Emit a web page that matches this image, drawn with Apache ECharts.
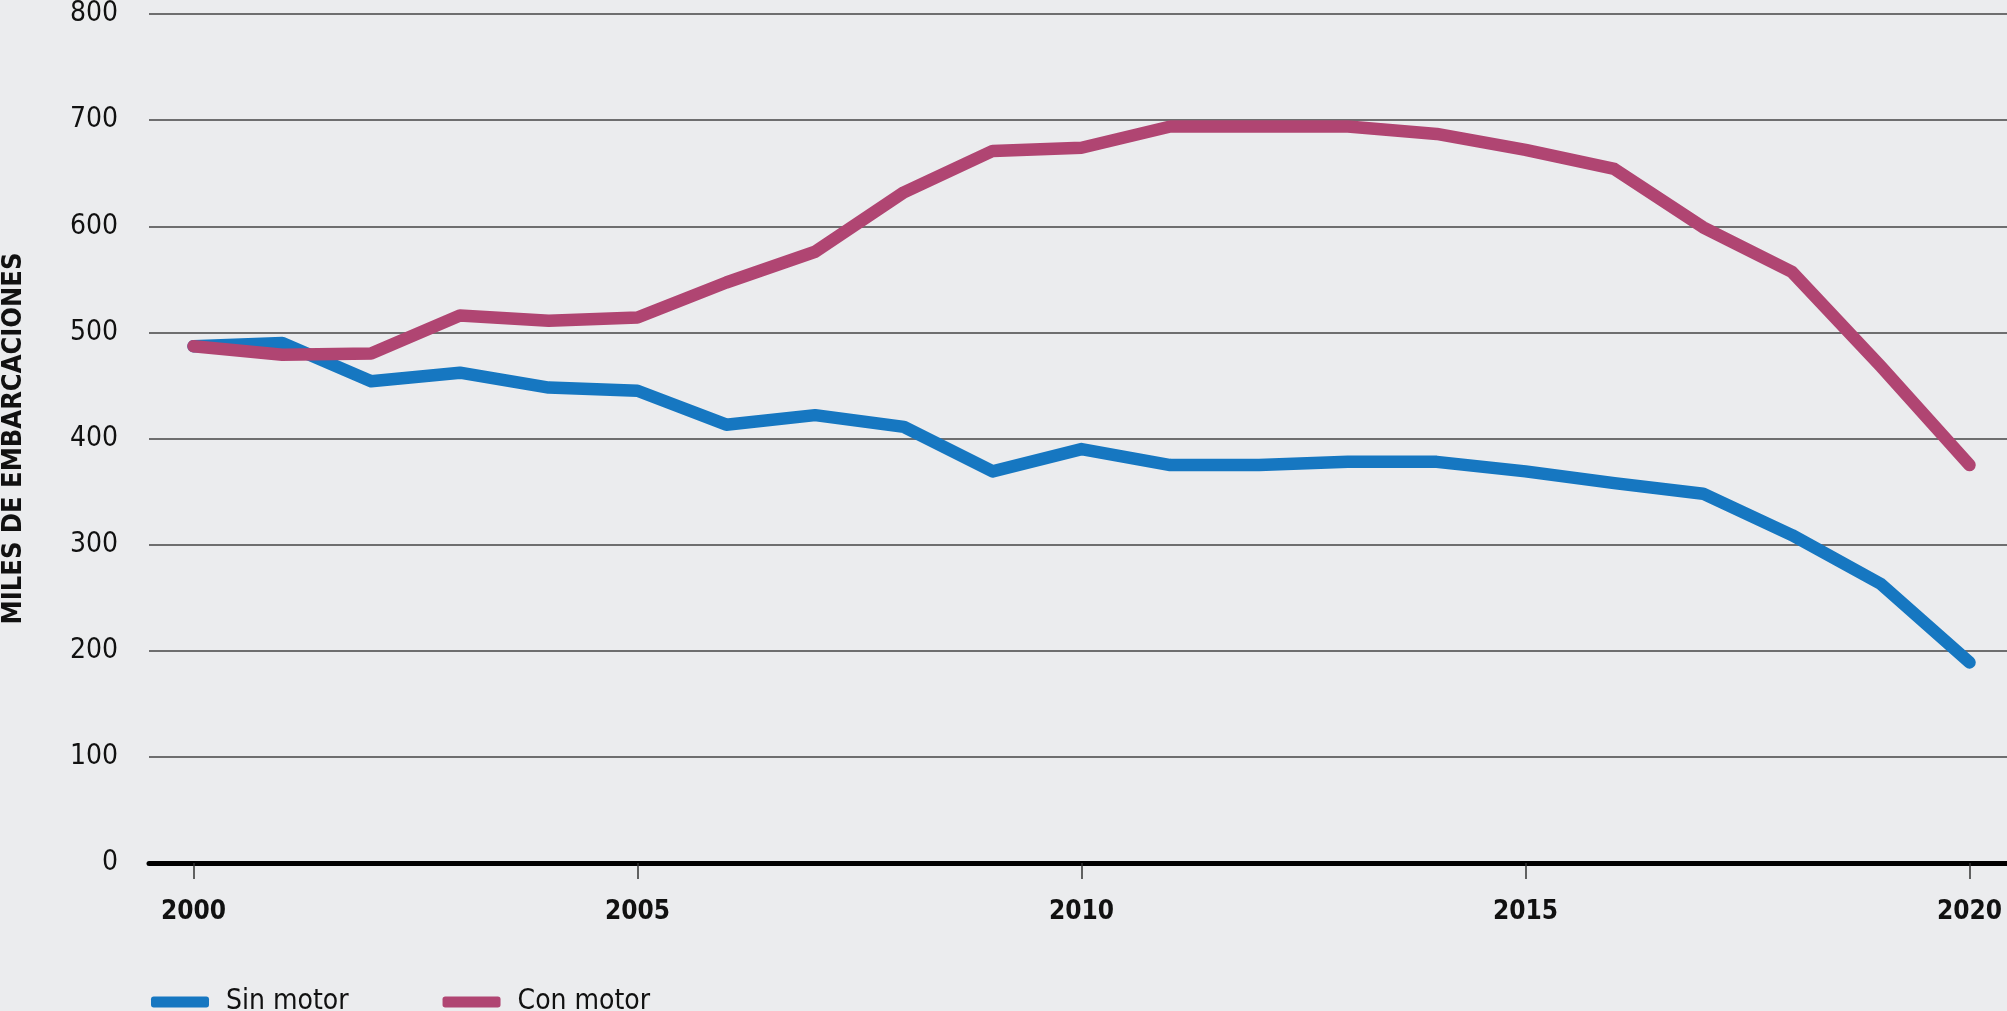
<!DOCTYPE html>
<html>
<head>
<meta charset="utf-8">
<script src="https://cdn.jsdelivr.net/npm/echarts@6/dist/echarts.min.js"></script>
<style>
html,body{margin:0;padding:0;background:#EBECEE;}
#c{width:2007px;height:1011px;}
</style>
</head>
<body>
<div id="c"></div>
<script>
const years = [2000,2001,2002,2003,2004,2005,2006,2007,2008,2009,2010,2011,2012,2013,2014,2015,2016,2017,2018,2019,2020];
const sinMotor = [487,490,454,462,448,445,413,422,411,369,390,375,375,378,378,369,358,348,309,263,189];
const conMotor = [487,479,480,516,511,514,547,576,632,671,674,694,694,694,687,672,654,599,557,468,375];
const yTicks = [0,100,200,300,400,500,600,700,800];
const xTicks = [2000,2005,2010,2015,2020];

// detect whether a condensed face is available
const FAM = "'DejaVu Sans Condensed','DejaVu Sans'";
let STRETCH = 'normal';
(function(){
  const ctx = document.createElement('canvas').getContext('2d');
  ctx.font = "bold 30px " + FAM;
  const w1 = ctx.measureText('MILES DE EMBARCACIONES').width;
  ctx.font = "condensed bold 30px " + FAM;
  const ok = /condensed/.test(ctx.font);
  const w2 = ctx.measureText('MILES DE EMBARCACIONES').width;
  if (ok && w2 < w1 - 5) STRETCH = 'condensed';
})();

const chart = echarts.init(document.getElementById('c'), null, {renderer:'canvas'});
const pair = arr => years.map((y,i)=>[y,arr[i]]);
const txt = (size, weight) => ({fontFamily:FAM, fontStyle:STRETCH, fontSize:size, fontWeight:weight, color:'#111'});

chart.setOption({
  backgroundColor:'#EBECEE',
  animation:false,
  legend:{
    left:146, top:983,
    itemWidth:58, itemHeight:11, itemGap:94,
    icon:'roundRect',
    textStyle:Object.assign(txt(28,'normal'), {padding:[0,0,0,12]}),
    data:['Sin motor','Con motor']
  },
  grid:[
    {left:149, right:0, top:14, bottom:148, outerBoundsMode:'none', containLabel:false},
    {left:193.5, right:37.5, top:14, bottom:148, outerBoundsMode:'none', containLabel:false}
  ],
  xAxis:[
    {gridIndex:0, type:'value', min:0, max:1, show:true,
     axisLine:{show:true, lineStyle:{color:'#000', width:5}},
     axisTick:{show:false}, axisLabel:{show:false}, splitLine:{show:false}},
    {gridIndex:1, type:'value', min:2000, max:2020, interval:5,
     axisLine:{show:false},
     axisTick:{show:true, length:16, lineStyle:{color:'#333', width:1.5}},
     axisLabel:Object.assign(txt(26,'bold'), {margin:36,
       formatter:v=>xTicks.includes(v)?String(v):''}),
     splitLine:{show:false}}
  ],
  yAxis:[
    {gridIndex:0, type:'value', min:0, max:800, interval:100,
     name:'MILES DE EMBARCACIONES', nameLocation:'middle', nameGap:122,
     nameTextStyle:txt(27,'bold'),
     axisLine:{show:false}, axisTick:{show:false},
     axisLabel:Object.assign(txt(28,'normal'), {margin:31,
       formatter:v=>yTicks.includes(v)?String(v):''}),
     splitLine:{show:true, lineStyle:{color:'#444', width:1.5}}},
    {gridIndex:1, type:'value', min:0, max:800, show:false}
  ],
  series:[
    {name:'Sin motor', type:'line', xAxisIndex:1, yAxisIndex:1, data:pair(sinMotor),
     symbol:'none', lineStyle:{color:'#1677C1', width:12.5, cap:'round', join:'round'},
     itemStyle:{color:'#1677C1'}},
    {name:'Con motor', type:'line', xAxisIndex:1, yAxisIndex:1, data:pair(conMotor),
     symbol:'none', lineStyle:{color:'#B04572', width:12.5, cap:'round', join:'round'},
     itemStyle:{color:'#B04572'}}
  ]
});
</script>
</body>
</html>
